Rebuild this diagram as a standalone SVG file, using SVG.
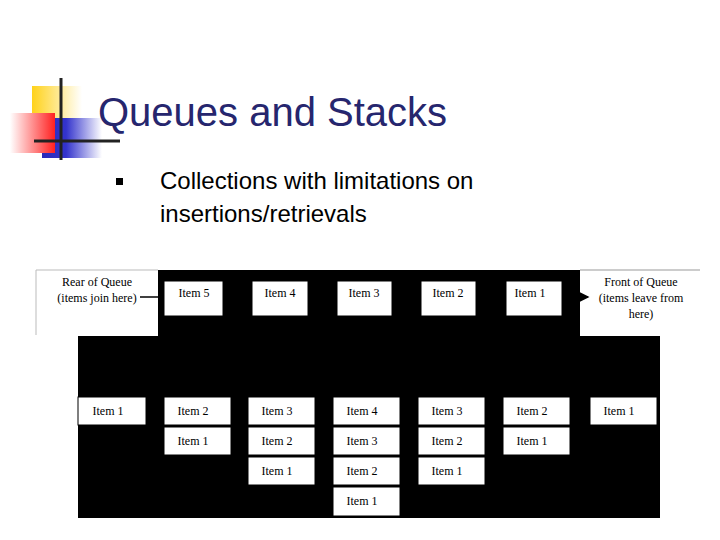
<svg xmlns="http://www.w3.org/2000/svg" width="720" height="540" viewBox="0 0 720 540">
<defs>
<style>
.b{fill:#fff;stroke:#000;stroke-width:1}
.t{font-family:"Liberation Serif",serif;font-size:12px;fill:#000;text-anchor:middle}
</style>
<linearGradient id="gy" x1="0" x2="1"><stop offset="0" stop-color="#ffd21a"/><stop offset="1" stop-color="#fff"/></linearGradient>
<linearGradient id="gr" x1="1" x2="0"><stop offset="0" stop-color="#ff2020"/><stop offset="1" stop-color="#fff"/></linearGradient>
<linearGradient id="gb" x1="0" x2="1"><stop offset="0" stop-color="#2a2ab8"/><stop offset="0.4" stop-color="#3333cc"/><stop offset="1" stop-color="#fff"/></linearGradient>
<marker id="ar" markerWidth="8" markerHeight="8" refX="7" refY="4" orient="auto"><path d="M0,0L8,4L0,8z" fill="#000"/></marker>
</defs>
<rect width="720" height="540" fill="#fff"/>
<g id="logo">
<rect x="32" y="86" width="50" height="48" fill="url(#gy)"/>
<rect x="42" y="118" width="60" height="40" fill="url(#gb)"/>
<rect x="10" y="113" width="45" height="40" fill="url(#gr)"/>
<line x1="61" y1="78" x2="61" y2="160" stroke="#222" stroke-width="3"/>
<line x1="34" y1="141" x2="120" y2="141" stroke="#222" stroke-width="3"/>
</g>
<text x="98" y="126" font-family="Liberation Sans,sans-serif" font-size="40" fill="#26266e">Queues and Stacks</text>
<rect x="116" y="178" width="7" height="7" fill="#000"/>
<text font-family="Liberation Sans,sans-serif" font-size="24" fill="#000"><tspan x="160" y="189">Collections with limitations on</tspan><tspan x="160" y="222">insertions/retrievals</tspan></text>
<rect x="158" y="270" width="422" height="66" fill="#000"/>
<rect x="78" y="336" width="582" height="182" fill="#000"/>
<g id="rear"><path d="M36,335V270H158" fill="none" stroke="#bbb"/><text class="t"><tspan x="97" y="286">Rear of Queue</tspan><tspan x="97" y="302">(items join here)</tspan></text></g>
<g id="front"><line x1="580" y1="270" x2="700" y2="270" stroke="#999"/><text class="t"><tspan x="641" y="286">Front of Queue</tspan><tspan x="641" y="302">(items leave from</tspan><tspan x="641" y="318">here)</tspan></text></g>
<g id="connectors">
<line x1="140" y1="297" x2="162" y2="297" stroke="#000" stroke-width="1.5"/>
<line x1="566" y1="297" x2="588" y2="297" stroke="#000" stroke-width="1.5" marker-end="url(#ar)"/>
</g>
<g id="q5"><rect class="b" x="164" y="281" width="59" height="35"/><text class="t" x="194" y="297">Item 5</text></g>
<g id="q4"><rect class="b" x="252" y="281" width="56" height="35"/><text class="t" x="280" y="297">Item 4</text></g>
<g id="q3"><rect class="b" x="337" y="281" width="55" height="35"/><text class="t" x="364" y="297">Item 3</text></g>
<g id="q2"><rect class="b" x="421" y="281" width="55" height="35"/><text class="t" x="448" y="297">Item 2</text></g>
<g id="q1"><rect class="b" x="506" y="281" width="56" height="35"/><text class="t" x="530" y="297">Item 1</text></g>
<g id="s1"><rect class="b" x="78" y="397" width="68" height="28"/><text class="t" x="108" y="415">Item 1</text></g>
<g id="s2"><rect class="b" x="164" y="397" width="67" height="28"/><text class="t" x="193" y="415">Item 2</text><rect class="b" x="164" y="427" width="67" height="28"/><text class="t" x="193" y="445">Item 1</text></g>
<g id="s3"><rect class="b" x="248" y="397" width="67" height="28"/><text class="t" x="277" y="415">Item 3</text><rect class="b" x="248" y="427" width="67" height="28"/><text class="t" x="277" y="445">Item 2</text><rect class="b" x="248" y="457" width="67" height="28"/><text class="t" x="277" y="475">Item 1</text></g>
<g id="s4"><rect class="b" x="333" y="397" width="67" height="28"/><text class="t" x="362" y="415">Item 4</text><rect class="b" x="333" y="427" width="67" height="28"/><text class="t" x="362" y="445">Item 3</text><rect class="b" x="333" y="457" width="67" height="28"/><text class="t" x="362" y="475">Item 2</text><rect class="b" x="333" y="487" width="67" height="29"/><text class="t" x="362" y="505">Item 1</text></g>
<g id="s5"><rect class="b" x="418" y="397" width="67" height="28"/><text class="t" x="447" y="415">Item 3</text><rect class="b" x="418" y="427" width="67" height="28"/><text class="t" x="447" y="445">Item 2</text><rect class="b" x="418" y="457" width="67" height="28"/><text class="t" x="447" y="475">Item 1</text></g>
<g id="s6"><rect class="b" x="503" y="397" width="67" height="28"/><text class="t" x="532" y="415">Item 2</text><rect class="b" x="503" y="427" width="67" height="28"/><text class="t" x="532" y="445">Item 1</text></g>
<g id="s7"><rect class="b" x="590" y="397" width="67" height="28"/><text class="t" x="619" y="415">Item 1</text></g>
</svg>
